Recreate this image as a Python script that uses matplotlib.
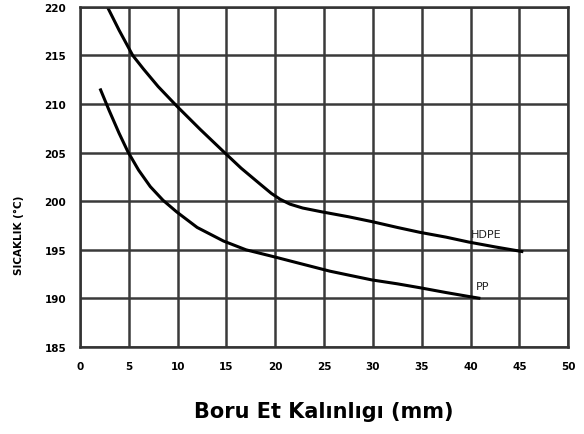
import numpy as np
import matplotlib.pyplot as plt

# curve points
hdpe_x = [2.8, 4.0, 5.4, 6.5, 8.0, 9.9, 12.3, 14.7, 16.5, 18.4, 19.6, 20.5, 21.5, 22.8, 24.8,
          27.5, 29.9, 32.5, 34.8, 37.5, 39.8, 42.5, 45.4]
hdpe_y = [220.0, 217.6, 215.0, 213.6, 211.8, 209.8, 207.4, 205.1, 203.4, 201.8, 200.8, 200.2, 199.7, 199.3, 198.9,
          198.4, 197.9, 197.3, 196.8, 196.3, 195.8, 195.3, 194.8]
pp_x = [2.05, 3.0, 4.0, 4.9, 6.0, 7.2, 8.5, 9.9, 12.0, 14.7, 17.0, 19.8, 22.5,
        25.6, 27.5, 29.9, 32.5, 34.8, 37.5, 39.8, 41.0]
pp_y = [211.6, 209.3, 207.0, 205.1, 203.2, 201.5, 200.1, 198.9, 197.3, 195.9, 195.0, 194.3, 193.6,
        192.8, 192.4, 191.9, 191.5, 191.1, 190.6, 190.2, 190.0]

xticks = np.arange(0, 51, 5)
yticks = np.arange(185, 221, 5)

fig = plt.figure(figsize=(5.84, 4.35), dpi=100)
ax = fig.add_axes([0.137, 0.2, 0.836, 0.782])

ax.plot(hdpe_x, hdpe_y, color='black', lw=2.2, solid_capstyle='butt', solid_joinstyle='round')
ax.plot(pp_x, pp_y, color='black', lw=2.2, solid_capstyle='butt', solid_joinstyle='round')
ax.text(40.0, 196.6, 'HDPE', fontsize=8, color='#222222', va='center')
ax.text(40.5, 191.3, 'PP', fontsize=8, color='#222222', va='center')

ax.set_xlim(0, 50)
ax.set_ylim(185, 220)
ax.set_xticks(xticks)
ax.set_yticks(yticks)
ax.set_xticklabels([str(v) for v in xticks], fontsize=7.5, fontweight='bold')
ax.set_yticklabels([str(v) for v in yticks], fontsize=7.5, fontweight='bold')
ax.tick_params(length=0, pad=10)
ax.grid(True, color='#3a3a3a', lw=1.8)
ax.set_axisbelow(True)
for s in ax.spines.values():
    s.set_color('#333333')
    s.set_linewidth(1.8)

ax.set_ylabel('SICAKLIK (°C)', fontsize=7.5, fontweight='bold')
ax.yaxis.set_label_coords(-0.115, 0.33)
ax.set_xlabel('Boru Et Kalınlıgı (mm)', fontsize=15, fontweight='bold', labelpad=22)

fig.savefig('out.png', dpi=100)
